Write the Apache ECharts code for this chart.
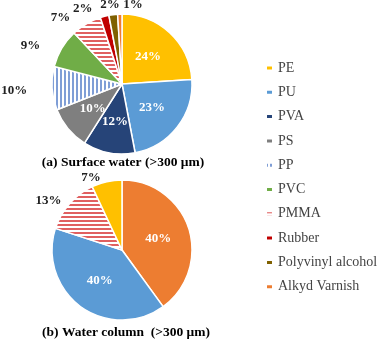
<!DOCTYPE html>
<html><head><meta charset="utf-8">
<script src="https://cdn.jsdelivr.net/npm/echarts@6/dist/echarts.min.js"></script>
<style>html,body{margin:0;padding:0;background:#fff}#c{width:382px;height:339px}</style>
</head><body><div id="c"></div>
<script>
const categories = ['PE','PU','PVA','PS','PP','PVC','PMMA','Rubber','Polyvinyl alcohol','Alkyd Varnish'];
const surfaceNames = ['PE','PU','PVA','PS','PP','PVC','PMMA','Rubber','Polyvinyl alcohol','Alkyd Varnish'];
const surfaceValues = [24,23,12,10,10,9,7,2,2,1];
const columnNames = ['Alkyd Varnish','PU','PMMA','PE'];
const columnValues = [40,40,13,7];
const titles = ['(a) Surface water (>300 μm)','(b) Water column  (>300 μm)'];

function stripes(dir, fg, bg){
  const c=document.createElement('canvas'); c.width=4; c.height=4;
  const x=c.getContext('2d'); x.fillStyle=bg; x.fillRect(0,0,4,4); x.fillStyle=fg;
  if(dir==='v') x.fillRect(0,0,2,4); else x.fillRect(0,0,4,2);
  return {image:c, repeat:'repeat'};
}
const colors = {
  'PE':'#FFC000','PU':'#5B9BD5','PVA':'#264478','PS':'#7F7F7F',
  'PP':stripes('v','#7F9ED6','#ffffff'),'PVC':'#70AD47',
  'PMMA':stripes('h','#E06060','#ffffff'),'Rubber':'#C00000',
  'Polyvinyl alcohol':'#7F6000','Alkyd Varnish':'#ED7D31'
};
const insideTop = ['PE','PU','PVA','PS'];
const insideBottom = ['Alkyd Varnish','PU'];
const font = {fontFamily:'Liberation Serif',fontWeight:'bold',fontSize:13};
// nudges for crowded outside labels (label styling only)
const labelShift = {
  'PP':[-16,2],'PVC':[-13,-1],'PMMA':[-9,-3],
  'Rubber':[-6,-4],'Polyvinyl alcohol':[12,-6],'Alkyd Varnish':[28,-5]
};

function mk(names, values, inside){
  return names.map((n,i)=>({
    name:n, value:values[i],
    itemStyle:{color:colors[n]},
    label: inside.includes(n)
      ? Object.assign({position:'inside',color:'#fff'},font)
      : Object.assign({position:'outside',color:'#222'},font),
    labelLine:{show:false, length:4, length2:0}
  }));
}
function layoutFor(names){
  return function(p){
    const s = labelShift[names[p.dataIndex]] || [0,0];
    return {hideOverlap:false, dx:s[0], dy:s[1]};
  };
}
const titleStyle = {fontFamily:'Liberation Serif',fontWeight:'bold',fontSize:13.5,color:'#000'};

const chart = echarts.init(document.getElementById('c'));
chart.setOption({
  animation:false,
  title:[
    {text:titles[0],left:123,top:156,padding:0,textAlign:'center',textStyle:titleStyle},
    {text:titles[1],left:126,top:326,padding:0,textAlign:'center',textStyle:titleStyle}
  ],
  legend:{
    orient:'vertical',left:260,top:56,itemWidth:7,itemHeight:5,itemGap:10.3,
    data:categories,
    textStyle:{fontFamily:'Liberation Serif',fontSize:14,color:'#444'}
  },
  series:[
    {type:'pie',center:[122,84],radius:[0,70],startAngle:90,clockwise:true,
     itemStyle:{borderColor:'#fff',borderWidth:1.5},
     label:{show:true,formatter:'{c}%'},
     avoidLabelOverlap:false,
     labelLayout:layoutFor(surfaceNames),
     data:mk(surfaceNames,surfaceValues,insideTop)},
    {type:'pie',center:[122,250],radius:[0,70],startAngle:90,clockwise:true,
     itemStyle:{borderColor:'#fff',borderWidth:1.5},
     label:{show:true,formatter:'{c}%'},
     avoidLabelOverlap:false,
     labelLayout:{hideOverlap:false},
     data:mk(columnNames,columnValues,insideBottom)}
  ]
});
</script></body></html>
